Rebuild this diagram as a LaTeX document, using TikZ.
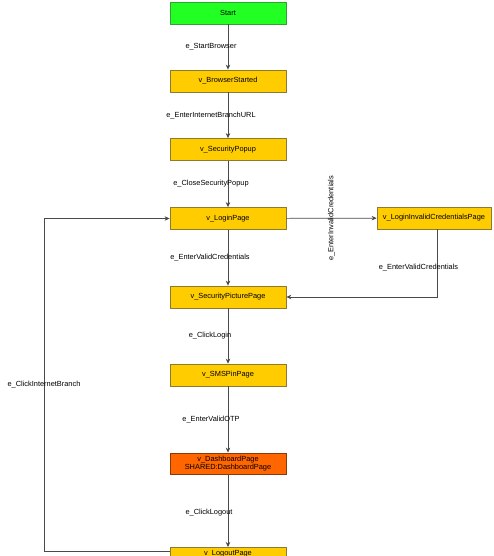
\documentclass[tikz,border=0pt]{standalone}
\usepackage{fontspec}
\setmainfont{Liberation Sans}
\usetikzlibrary{arrows.meta,positioning,calc}
\definecolor{ygold}{HTML}{FFCC00}
\definecolor{yborder}{HTML}{8C7A30}
\definecolor{gfill}{HTML}{22FF22}
\definecolor{gborder}{HTML}{33A033}
\definecolor{ofill}{HTML}{FF6600}
\definecolor{oborder}{HTML}{8B3A0A}
\definecolor{edgegray}{HTML}{4A4A4A}
\tikzset{
  vbox/.style={draw=yborder, fill=ygold, line width=0.8pt, rectangle, minimum width=116pt, minimum height=22pt, inner sep=1pt, font=\fontsize{7.4}{8.4}\selectfont, align=center},
  startbox/.style={vbox, draw=gborder, fill=gfill},
  sharedbox/.style={vbox, draw=oborder, fill=ofill, minimum height=21pt},
  conn/.style={draw=edgegray, line width=0.7pt, -{Stealth[length=5pt,width=4.5pt,fill=black]}},
  elabel/.style={font=\fontsize{7.4}{8.4}\selectfont, inner sep=1pt}
}
\begin{document}
\begin{tikzpicture}[x=1pt,y=-1pt]
\useasboundingbox (0,0) rectangle (493,556);
\node[startbox] (start) at (228,13) {Start};
\node[vbox] (bs) at (228,81) {v\_BrowserStarted};
\node[vbox] (sp) at (228,149.5) {v\_SecurityPopup};
\node[vbox] (lp) at (228,218.5) {v\_LoginPage};
\node[vbox] (spp) at (228,297) {v\_SecurityPicturePage};
\node[vbox] (sms) at (228,375) {v\_SMSPinPage};
\node[sharedbox] (dash) at (228,463.5) {v\_DashboardPage\\SHARED:DashboardPage};
\node[vbox, anchor=north, text depth=11pt] (lo) at (228,547) {v\_LogoutPage};
\node[vbox, minimum width=114pt] (inv) at (434,218) {v\_LoginInvalidCredentialsPage};

\draw[conn] (start) -- node[elabel, xshift=-17pt] {e\_StartBrowser} (bs);
\draw[conn] (bs) -- node[elabel, xshift=-17pt] {e\_EnterInternetBranchURL} (sp);
\draw[conn] (sp) -- node[elabel, xshift=-17pt] {e\_CloseSecurityPopup} (lp);
\draw[conn] (lp) -- node[elabel, xshift=-18pt] {e\_EnterValidCredentials} (spp);
\draw[conn] (spp) -- node[elabel, xshift=-18pt] {e\_ClickLogin} (sms);
\draw[conn] (sms) -- node[elabel, xshift=-17pt] {e\_EnterValidOTP} (dash);
\draw[conn] (dash) -- node[elabel, xshift=-19pt, yshift=-2pt] {e\_ClickLogout} (lo.north);
\draw[conn] (lp) -- node[elabel, rotate=90] {e\_EnterInvalidCredentials} (inv);
\draw[conn] ([xshift=3pt]inv.south) |- node[elabel, pos=0.28, xshift=-18.5pt] {e\_EnterValidCredentials} (spp.east);
\coordinate (loopout) at ($(lo.north west)+(0,4)$);
\coordinate (loopcorner) at (44,551);
\draw[conn] (loopout) -- (loopcorner) |- node[elabel, pos=0.25] {e\_ClickInternetBranch} (lp.west);
\end{tikzpicture}
\end{document}
